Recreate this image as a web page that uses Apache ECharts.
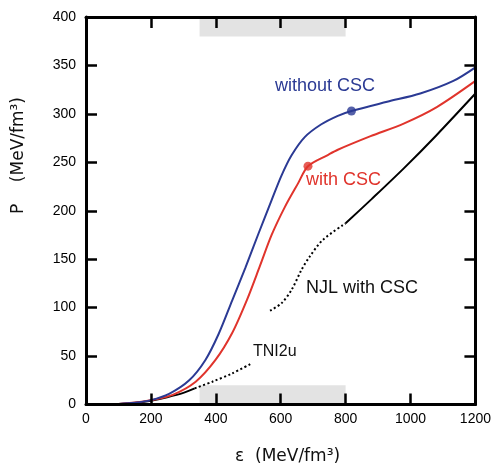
<!DOCTYPE html>
<html>
<head>
<meta charset="utf-8">
<script src="https://cdn.jsdelivr.net/npm/echarts@6/dist/echarts.min.js"></script>
<style>html,body{margin:0;padding:0;background:#fff}#c{width:494px;height:471px}</style>
</head>
<body>
<div id="c"></div>
<script>
// ---- data ----
const xTicks = [0, 200, 400, 600, 800, 1000, 1200];
const yTicks = [0, 50, 100, 150, 200, 250, 300, 350, 400];

const blueEps = [50, 100, 150, 200, 256, 318, 368, 409, 450, 491, 531, 572, 602, 633, 674, 724, 776, 818, 928, 1030, 1132, 1200];
const blueP   = [0, 0.6, 1.8, 4.5, 11, 25, 46, 73, 107, 141, 176, 211, 236, 257, 276, 289, 298, 303, 312.5, 321, 334, 348];

const redEps = [50, 100, 150, 200, 267, 338, 399, 450, 496, 536, 572, 613, 653, 684, 745, 776, 877, 979, 1081, 1200];
const redP   = [0, 0.6, 2, 4.5, 10, 23.5, 46, 73.5, 108, 143, 175, 204, 228, 246, 257.5, 263, 277, 290, 307, 334];

const njlSolidEps = [800, 880, 980, 1080, 1200];
const njlSolidP   = [187, 212, 244, 278, 321];
const njlDotEps = [567, 602, 633, 664, 689, 730, 800];
const njlDotP   = [96.8, 104.4, 118, 139, 152.5, 170, 187];

const tniSolidEps = [0, 100, 150, 200, 250, 300, 335];
const tniSolidP   = [0, 0.5, 1.5, 3.9, 7.5, 12, 16.7];
const tniDotEps = [335, 389, 450, 511];
const tniDotP   = [16.7, 23.5, 32, 42.5];

const blueDot = [818, 303];
const redDot = [684, 246];

const bandX = [350, 800];
const bandLow = [0, 20];
const bandHigh = [380, 400];

// ---- build ----
const pair = (xs, ys) => xs.map((x, i) => [x, ys[i]]);
const BLUE = '#2b3a94', RED = '#e0342c';
const FONT = 'Liberation Sans, Arial, sans-serif';
const TFONT = '17px DejaVu Sans, sans-serif';

const chart = echarts.init(document.getElementById('c'), null, {renderer: 'canvas'});
const axisCommon = {
  type: 'value',
  axisLine: {show: true, onZero: false, lineStyle: {color: '#000', width: 3}},
  axisTick: {show: true, inside: true, length: 11, lineStyle: {color: '#000', width: 2.5}},
  splitLine: {show: false},
  z: 10
};
const lineBase = {type: 'line', showSymbol: false, silent: true, smooth: 0.3};
chart.setOption({
  animation: false,
  grid: {left: 86, right: 15, top: 17, bottom: 66.5, containLabel: false},
  xAxis: [
    Object.assign({}, axisCommon, {position: 'bottom', min: 0, max: 1200, interval: 200,
      axisLabel: {color: '#000', fontSize: 14, fontFamily: FONT, margin: 8, formatter: v => xTicks.includes(v) ? String(v) : ''}}),
    Object.assign({}, axisCommon, {position: 'top', min: 0, max: 1200, interval: 200, axisLabel: {show: false}})
  ],
  yAxis: [
    Object.assign({}, axisCommon, {position: 'left', min: 0, max: 400, interval: 50,
      axisLabel: {color: '#000', fontSize: 14, fontFamily: FONT, margin: 10, formatter: v => yTicks.includes(v) ? String(v) : ''}}),
    Object.assign({}, axisCommon, {position: 'right', min: 0, max: 400, interval: 50, axisLabel: {show: false}})
  ],
  series: [
    {type: 'line', data: [], silent: true,
      markArea: {silent: true, itemStyle: {color: '#e3e3e3'}, data: [
        [{coord: [bandX[0], bandLow[0]]}, {coord: [bandX[1], bandLow[1]]}],
        [{coord: [bandX[0], bandHigh[0]]}, {coord: [bandX[1], bandHigh[1]]}]
      ]}},
    Object.assign({}, lineBase, {data: pair(tniSolidEps, tniSolidP),
      lineStyle: {color: '#000', width: 2}}),
    Object.assign({}, lineBase, {data: pair(tniDotEps, tniDotP),
      lineStyle: {color: '#000', width: 2, type: [2, 2.5]}}),
    Object.assign({}, lineBase, {data: pair(njlDotEps, njlDotP),
      lineStyle: {color: '#000', width: 2, type: [2, 2.5]}}),
    Object.assign({}, lineBase, {data: pair(njlSolidEps, njlSolidP),
      lineStyle: {color: '#000', width: 2}}),
    Object.assign({}, lineBase, {data: pair(redEps, redP),
      lineStyle: {color: RED, width: 2}}),
    Object.assign({}, lineBase, {data: pair(blueEps, blueP),
      lineStyle: {color: BLUE, width: 2}}),
    {type: 'scatter', data: [blueDot], symbolSize: 9, itemStyle: {color: BLUE}, z: 5, silent: true},
    {type: 'scatter', data: [redDot], symbolSize: 9, itemStyle: {color: RED}, z: 5, silent: true}
  ],
  graphic: [
    {type: 'text', left: 275, top: 77, style: {text: 'without CSC', fill: BLUE, font: '18px ' + FONT}},
    {type: 'text', left: 306, top: 171, style: {text: 'with CSC', fill: RED, font: '18px ' + FONT}},
    {type: 'text', left: 306, top: 279, style: {text: 'NJL with CSC', fill: '#111', font: '18px ' + FONT}},
    {type: 'text', left: 253, top: 344, style: {text: 'TNI2u', fill: '#111', font: '16px ' + FONT}},
    {type: 'text', left: 235, top: 448, style: {text: 'ε  (MeV/fm³)', fill: '#111', font: TFONT}},
    {type: 'text', x: 10, y: 214, rotation: Math.PI / 2, style: {text: 'P    (MeV/fm³)', fill: '#111', font: TFONT}}
  ]
});
</script>
</body>
</html>
